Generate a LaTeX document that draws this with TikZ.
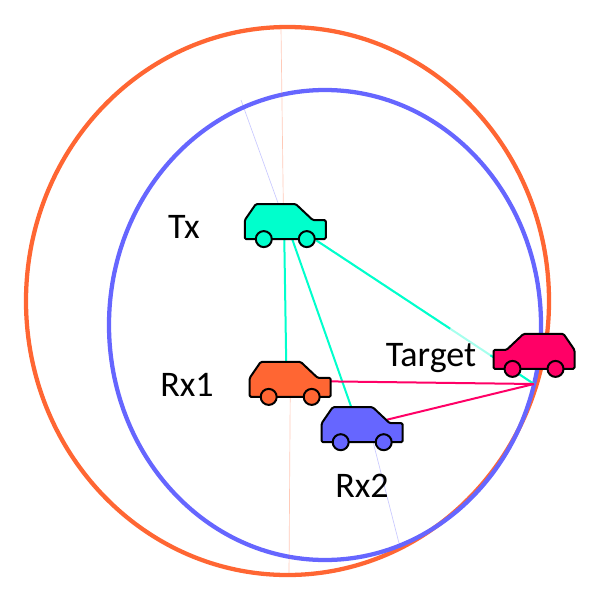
\documentclass[tikz,border=0pt]{standalone}
\usepackage{fontspec}
\setmainfont{Carlito}
\usetikzlibrary{calc}
\definecolor{carorange}{RGB}{255,102,51}
\definecolor{carblue}{RGB}{102,102,255}
\definecolor{carteal}{RGB}{0,255,204}
\definecolor{carpink}{RGB}{255,0,102}
\tikzset{
  carslot/.style={minimum width=60.75pt, minimum height=26.25pt, inner sep=0pt},
  carlabel/.style={font=\fontsize{27}{30}\selectfont, inner sep=0pt},
  ringline/.style={line width=3.2pt},
  faintline/.style={line width=0.5pt, opacity=0.35},
  pics/car/.style={code={
    \draw[fill=#1, line width=1.5pt, line join=round, rounded corners=1pt]
      (-40.5,-1.5) -- (-29.5,-17.5) -- (10.5,-17.5) -- (27.5,-1.5) -- (40.5,-1.5)
      -- (40.5,17.5) -- (-40.5,17.5) -- cycle;
    \draw[fill=#1, line width=1.5pt] (-21.5,17.5) circle[radius=8];
    \draw[fill=#1, line width=1.5pt] (21.5,17.5) circle[radius=8];
  }}
}
\begin{document}
\begin{tikzpicture}[x=0.75pt,y=-0.75pt]
  \useasboundingbox (0,0) rectangle (598,604);

  % Car slots
  \node[carslot] (tx) at (285.3,221.6) {};
  \node[carslot] (rx1) at (290.2,379.4) {};
  \node[carslot] (rx2) at (362.2,424.7) {};
  \node[carslot] (target) at (534,351.4) {};
  \coordinate (bounce) at (534,384);

  % Rings
  \draw[carorange, ringline] (287.5,301) ellipse[x radius=261.5, y radius=274];
  \draw[carblue, ringline] (325,325) ellipse[x radius=216, y radius=235];

  % Faint extensions
  \coordinate (orangetop) at (281,28);
  \coordinate (orangebottom) at (289,575);
  \coordinate (bluetop) at (241,100);
  \coordinate (bluebottom) at (400,547);
  \draw[carorange, faintline] (orangetop) -- ($(tx.north)+(-2,0)$);
  \draw[carorange, faintline] (rx1.south) -- (orangebottom);
  \draw[carblue, faintline] (bluetop) -- ($(tx.north)+(-7,0)$);
  \draw[carblue, faintline] ($(rx2.south)+(11,0)$) -- (bluebottom);

  % Direct paths
  \draw[carteal, line width=1.5pt] ($(tx.south)+(-1,0)$) -- ($(rx1.north)+(-4,0)$);
  \draw[carteal, line width=1.5pt] ($(tx.south)+(7,0)$) -- ($(rx2.north)+(-11,0)$);
  \coordinate (txright) at ($(tx.south)+(31,1)$);
  \draw[carteal, line width=1.5pt, opacity=0.35] (txright) -- (bounce);
  \draw[carteal, line width=1.5pt] (txright) -- ($(txright)!0.615!(bounce)$);
  \draw[carteal, line width=1.5pt] ($(txright)!0.8!(bounce)$) -- (bounce);

  % Echo paths
  \draw[carpink, line width=1.5pt] ($(rx1.east)+(0,2)$) -- (bounce);
  \draw[carpink, line width=1.5pt] ($(rx2.north east)+(-17,13)$) -- (bounce);

  % Cars
  \pic at (tx) {car=carteal};
  \pic at (rx1) {car=carorange};
  \pic at (rx2) {car=carblue};
  \pic[xscale=-1] at (target) {car=carpink};

  % Labels
  \node[carlabel] (txlabel) at (184,227) {Tx};
  \node[carlabel] (rx1label) at (187,385) {Rx1};
  \node[carlabel] (rx2label) at (362,486) {Rx2};
  \node[carlabel] (targetlabel) at (431,358) {Target};
\end{tikzpicture}
\end{document}
